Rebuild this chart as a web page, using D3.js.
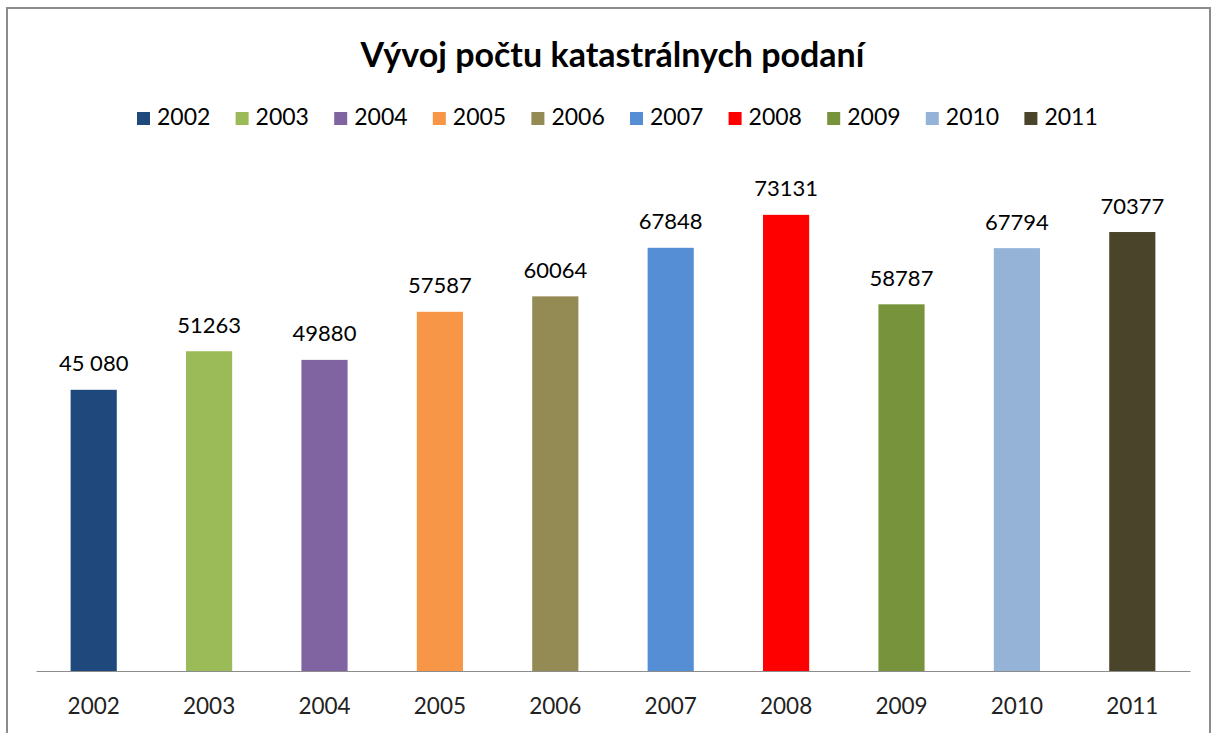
<!DOCTYPE html>
<html>
<head>
<meta charset="utf-8">
<script src="https://cdn.jsdelivr.net/npm/d3@7"></script>
<style>
  body { margin: 0; background: #fff; }
  text { font-family: Lato, "Open Sans", sans-serif; }
</style>
</head>
<body>
<svg id="chart"></svg>
<script>
const years = ["2002","2003","2004","2005","2006","2007","2008","2009","2010","2011"];
const values = [45080, 51263, 49880, 57587, 60064, 67848, 73131, 58787, 67794, 70377];
const valueLabels = ["45 080","51263","49880","57587","60064","67848","73131","58787","67794","70377"];
const colours = ["#1F497D","#9BBB59","#8064A2","#F79646","#948A54","#558ED5","#FF0000","#77933C","#95B3D7","#4A452A"];
const title = "Vývoj počtu katastrálnych podaní";

const width = 1213, height = 733;
const margin = { left: 36, right: 23, top: 172, bottom: 62 };

const svg = d3.select("#chart").attr("width", width).attr("height", height);

// chart frame
svg.append("rect")
    .attr("x", 7).attr("y", 8)
    .attr("width", 1203).attr("height", 740)
    .attr("fill", "none")
    .attr("stroke", "#8c8c8c")
    .attr("stroke-width", 2);

const x = d3.scaleBand()
    .domain(years)
    .range([margin.left, width - margin.right])
    .paddingInner(0.6)
    .paddingOuter(0.3);

const y = d3.scaleLinear()
    .domain([0, 80000])
    .range([height - margin.bottom, margin.top]);

const colour = d3.scaleOrdinal().domain(years).range(colours);

// title
svg.append("text")
    .attr("x", width / 2 + 6)
    .attr("y", 67)
    .attr("text-anchor", "middle")
    .style("font-size", "34px")
    .style("font-weight", "bold")
    .attr("fill", "#000")
    .text(title);

// legend
const legend = svg.selectAll(".legendItem")
    .data(years)
    .enter()
    .append("g")
    .attr("class", "legendItem")
    .attr("transform", (d, i) => `translate(${137 + i * 98.6},118)`);

legend.append("rect")
    .attr("x", 0).attr("y", -6)
    .attr("width", 13).attr("height", 13)
    .attr("fill", d => colour(d));

legend.append("text")
    .attr("x", 20).attr("y", 1)
    .attr("dominant-baseline", "middle")
    .style("font-size", "23px")
    .attr("fill", "#000")
    .text(d => d);

const data = years.map((yr, i) => ({ year: yr, value: values[i], label: valueLabels[i] }));

// bars
svg.selectAll(".bar")
    .data(data)
    .enter()
    .append("rect")
    .attr("class", "bar")
    .attr("x", d => x(d.year))
    .attr("y", d => y(d.value))
    .attr("width", x.bandwidth())
    .attr("height", d => y(0) - y(d.value))
    .attr("fill", d => colour(d.year));

// value labels
svg.selectAll(".valueLabel")
    .data(data)
    .enter()
    .append("text")
    .attr("class", "valueLabel")
    .attr("x", d => x(d.year) + x.bandwidth() / 2)
    .attr("y", d => y(d.value) - 24)
    .attr("text-anchor", "middle")
    .attr("dominant-baseline", "middle")
    .style("font-size", "22px")
    .attr("fill", "#000")
    .text(d => d.label);

// x axis
const xAxis = svg.append("g")
    .attr("transform", `translate(0,${y(0)})`)
    .call(d3.axisBottom(x).tickSize(0).tickPadding(27));

xAxis.select(".domain").attr("stroke", "#8c8c8c").attr("stroke-width", 1.2);
xAxis.selectAll("text")
    .style("font-size", "22.5px")
    .style("font-family", "Lato, 'Open Sans', sans-serif")
    .attr("fill", "#222");
</script>
</body>
</html>
